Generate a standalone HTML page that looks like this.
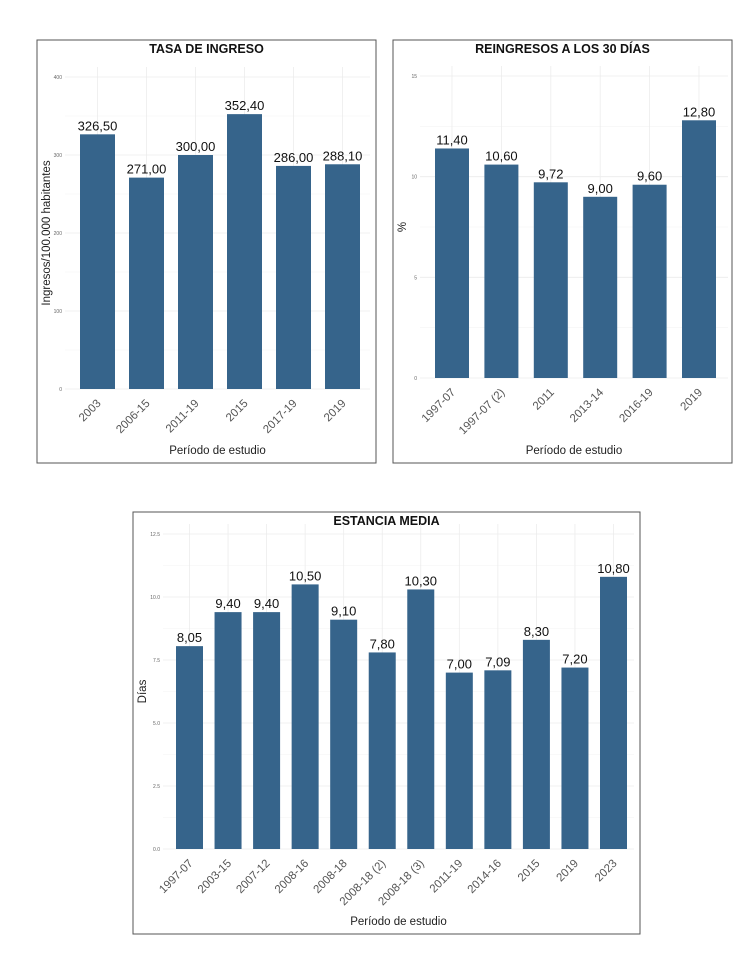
<!DOCTYPE html>
<html><head><meta charset="utf-8"><style>
body{margin:0;background:#fff;width:750px;height:974px;overflow:hidden;font-family:"Liberation Sans",Arial,sans-serif}
svg{position:absolute;left:0;top:0}
</style></head><body>
<svg id="s" width="750" height="974" xmlns="http://www.w3.org/2000/svg"></svg>
<script>
const c1Cats=["2003","2006-15","2011-19","2015","2017-19","2019"];
const c1Vals=[326.5,271,300,352.4,286,288.1];
const c1Ticks=[0,100,200,300,400];
const c2Cats=["1997-07","1997-07 (2)","2011","2013-14","2016-19","2019"];
const c2Vals=[11.4,10.6,9.72,9.0,9.6,12.8];
const c2Ticks=[0,5,10,15];
const c3Cats=["1997-07","2003-15","2007-12","2008-16","2008-18","2008-18 (2)","2008-18 (3)","2011-19","2014-16","2015","2019","2023"];
const c3Vals=[8.05,9.4,9.4,10.5,9.1,7.8,10.3,7.0,7.09,8.3,7.2,10.8];
const c3Ticks=[0,2.5,5,7.5,10,12.5];
const c3TickLabels=["0.0","2.5","5.0","7.5","10.0","12.5"];
const NS="http://www.w3.org/2000/svg";
const svg=document.getElementById('s');
function mk(tag,attrs,parent){const e=document.createElementNS(NS,tag);for(const k in attrs)e.setAttribute(k,attrs[k]);(parent||svg).appendChild(e);return e;}
function fmt(v){return v.toFixed(2).replace('.',',');}
function chart(o){
  const g=mk('g',{});
  
  
  const box=mk('rect',{x:o.bx,y:o.by,width:o.bw,height:o.bh,fill:'#fff',stroke:'#555','stroke-width':1},g);
  
  
  const t=mk('text',{x:o.bx+o.bw/2,y:o.by+13,'text-anchor':'middle','font-size':12.5,'font-weight':'bold',fill:'#111'},g);
  t.textContent=o.title;
  
  
  const ymax=o.ticks[o.ticks.length-1];
  const y=v=>o.y0-(v/ymax)*(o.y0-o.ytop);
  const step=(o.lastX-o.firstX)/(o.cats.length-1);
  const cx=i=>o.firstX+o.bwid/2+i*step;
  for(let k=0;k<o.ticks.length;k++){
    const v=o.ticks[k];
    mk('line',{x1:o.px0,x2:o.px1,y1:y(v),y2:y(v),stroke:'#ececec','stroke-width':0.8},g);
    if(k<o.ticks.length-1){const m=(v+o.ticks[k+1])/2;mk('line',{x1:o.px0,x2:o.px1,y1:y(m),y2:y(m),stroke:'#f4f4f4','stroke-width':0.6},g);}
    const tl=mk('text',{x:o.px0-3,y:y(v)+2,'text-anchor':'end','font-size':5,fill:'#666'},g);
    tl.textContent=o.tickLabels?o.tickLabels[k]:String(v);
    
    
  }
  o.cats.forEach((c,i)=>{
    mk('line',{x1:cx(i),x2:cx(i),y1:o.ytop-10,y2:o.y0,stroke:'#ececec','stroke-width':0.8},g);
  });
  o.cats.forEach((c,i)=>{
    const v=o.vals[i];
    const r=mk('rect',{x:cx(i)-o.bwid/2,y:y(v),width:o.bwid,height:o.y0-y(v),fill:'#36648b'},g);
    
    
    const l=mk('text',{x:cx(i),y:y(v)-4,'text-anchor':'middle','font-size':13,fill:'#111'},g);
    l.textContent=fmt(v);
    
    
    const xl=mk('text',{x:0,y:0,'text-anchor':'end','font-size':11.5,fill:'#555',transform:`translate(${cx(i)+4},${o.y0+15}) rotate(-45)`},g);
    xl.textContent=c;
    
    
  });
  const xt=mk('text',{x:(o.px0+o.px1)/2,y:o.by+o.bh-9,'text-anchor':'middle','font-size':11.5,fill:'#222'},g);
  xt.textContent='Período de estudio';
  
  
  const ym=(o.ytop+o.y0)/2;
  const yt=mk('text',{x:0,y:0,'text-anchor':'middle','font-size':11.5,fill:'#222',transform:`translate(${o.bx+13},${ym}) rotate(-90)`},g);
  yt.textContent=o.ytitle;
  
  
}
chart({name:'tasa-ingreso-chart',title:'TASA DE INGRESO',bx:37,by:40,bw:339,bh:423,cats:c1Cats,vals:c1Vals,ticks:c1Ticks,y0:389,ytop:77,firstX:80,lastX:325,bwid:35,px0:65,px1:370,ytitle:'Ingresos/100.000 habitantes'});
chart({name:'reingresos-chart',title:'REINGRESOS A LOS 30 DÍAS',bx:393,by:40,bw:339,bh:423,cats:c2Cats,vals:c2Vals,ticks:c2Ticks,y0:378,ytop:76,firstX:435,lastX:682,bwid:34,px0:420,px1:728,ytitle:'%'});
chart({name:'estancia-media-chart',title:'ESTANCIA MEDIA',bx:133,by:512,bw:507,bh:422,cats:c3Cats,vals:c3Vals,ticks:c3Ticks,tickLabels:c3TickLabels,y0:849,ytop:534,firstX:176,lastX:600,bwid:27,px0:163,px1:634,ytitle:'Días'});
</script>
</body></html>
